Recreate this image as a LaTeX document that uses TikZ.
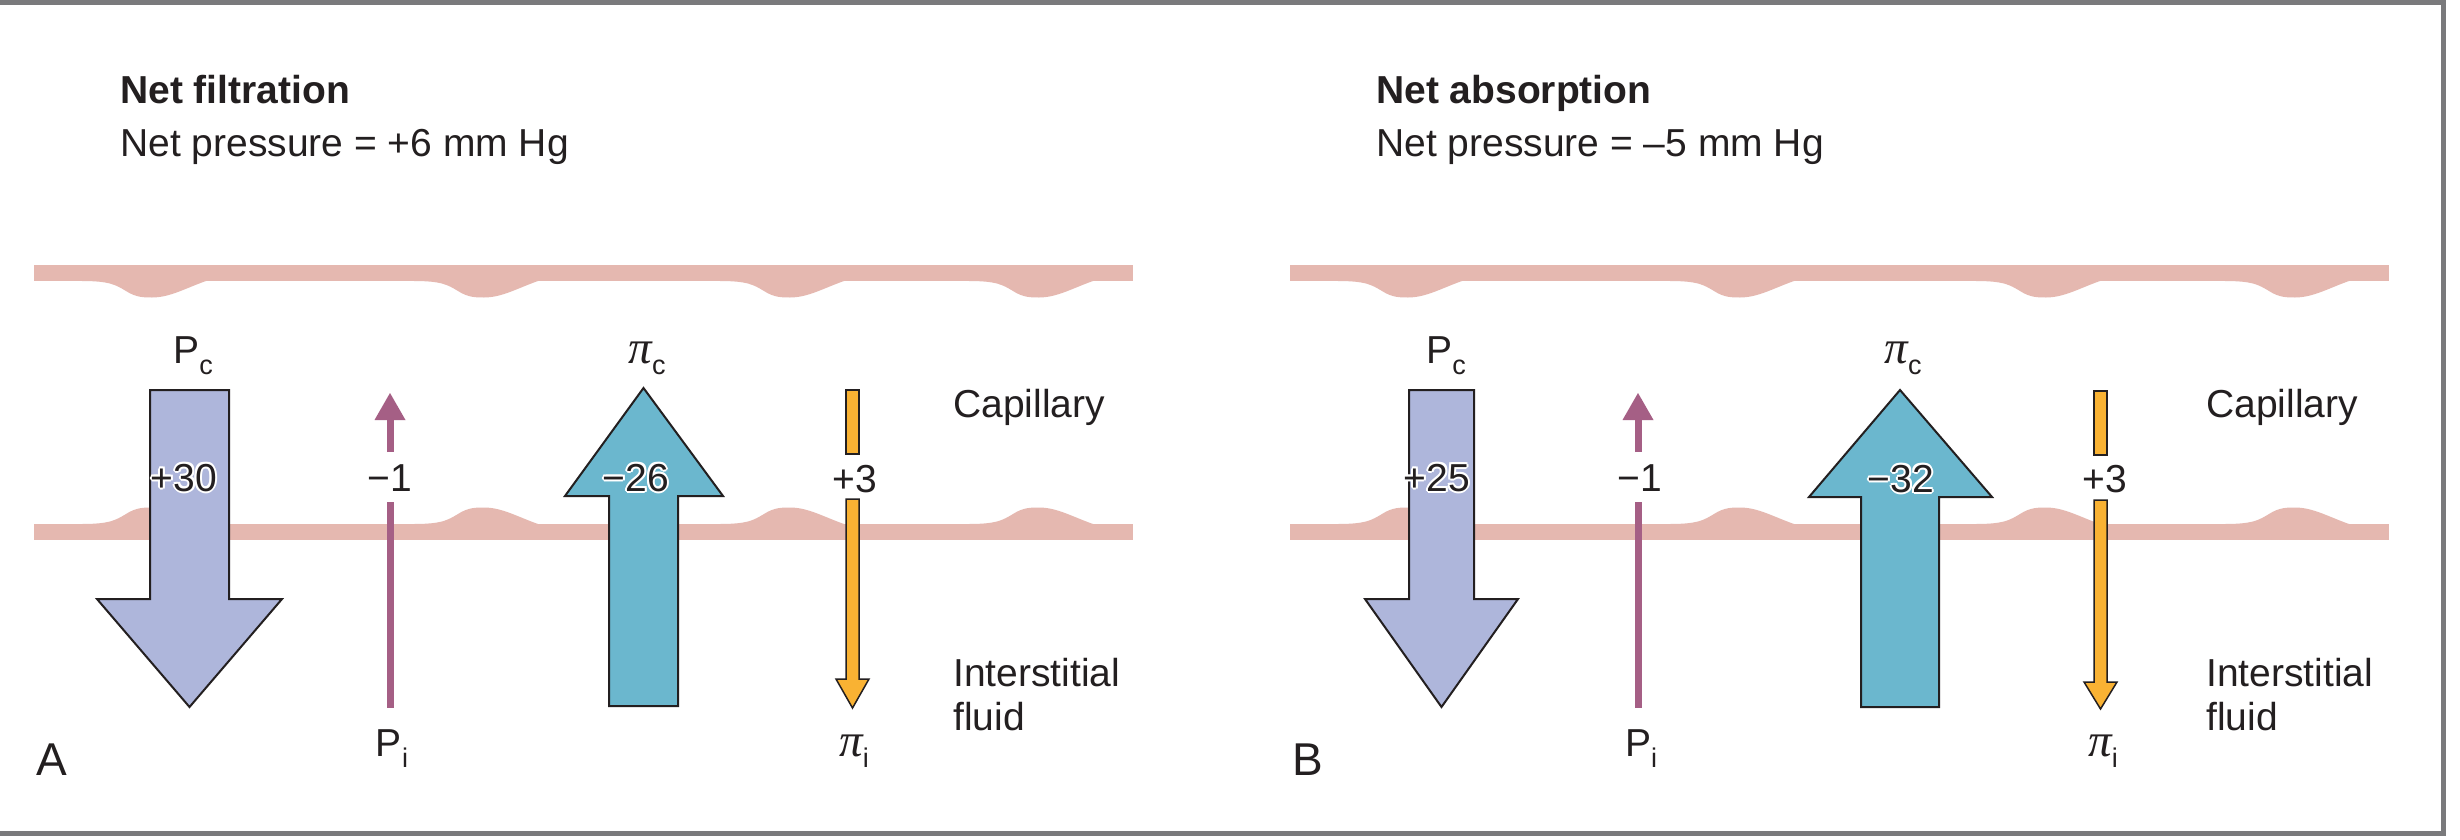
\documentclass[tikz,border=0pt]{standalone}
\usepackage{fontspec}
\setmainfont{Liberation Sans}
\newfontfamily\pifont{Liberation Serif}
\definecolor{ink}{RGB}{35,31,32}
\definecolor{bandpink}{RGB}{229,184,176}
\definecolor{lav}{RGB}{174,182,219}
\definecolor{cyanarr}{RGB}{107,183,206}
\definecolor{orng}{RGB}{249,178,51}
\definecolor{plum}{RGB}{165,95,133}
\definecolor{framegray}{RGB}{122,122,124}
\newcommand\sbs[1]{\raisebox{-0.29em}{\fontsize{27}{27}\selectfont #1}}
\newcommand\pisym{{\pifont\itshape\fontsize{47}{47}\selectfont π}}
\newcommand\halo[1]{\leavevmode
 \rlap{\textcolor{white}{\kern-2pt#1}}%
 \rlap{\textcolor{white}{\kern2pt#1}}%
 \rlap{\textcolor{white}{\raisebox{2pt}{#1}}}%
 \rlap{\textcolor{white}{\raisebox{-2pt}{#1}}}%
 \rlap{\textcolor{white}{\kern-1.5pt\raisebox{1.5pt}{#1}}}%
 \rlap{\textcolor{white}{\kern1.5pt\raisebox{1.5pt}{#1}}}%
 \rlap{\textcolor{white}{\kern-1.5pt\raisebox{-1.5pt}{#1}}}%
 \rlap{\textcolor{white}{\kern1.5pt\raisebox{-1.5pt}{#1}}}%
 #1}
\newcommand\topbump[2]{\fill[bandpink] ({#1-70},{#2-1}) -- ({#1-70},#2) .. controls ({#1-42},#2) and ({#1-36},{#2+4}) .. ({#1-26},{#2+10}) .. controls ({#1-16},{#2+16.5}) and ({#1-8},{#2+16.5}) .. (#1,{#2+16.5}) .. controls ({#1+18},{#2+16.5}) and ({#1+34},{#2+7}) .. ({#1+54},#2) -- ({#1+54},{#2-1}) -- cycle;}
\newcommand\botbump[2]{\fill[bandpink] ({#1-70},{#2+1}) -- ({#1-70},#2) .. controls ({#1-42},#2) and ({#1-36},{#2-4}) .. ({#1-26},{#2-10}) .. controls ({#1-16},{#2-16.5}) and ({#1-8},{#2-16.5}) .. (#1,{#2-16.5}) .. controls ({#1+18},{#2-16.5}) and ({#1+34},{#2-7}) .. ({#1+54},#2) -- ({#1+54},{#2+1}) -- cycle;}
\begin{document}
\begin{tikzpicture}[x=1pt,y=-1pt,
  lbl/.style={font=\fontsize{39}{47}\selectfont, text=ink, inner sep=0pt},
  big/.style={draw=ink, line width=2pt, line join=miter},
  thin/.style={draw=ink, line width=1.5pt, line join=miter}]
\useasboundingbox (0,0) rectangle (2460,840);
\fill[white] (0,0) rectangle (2460,840);
\draw[framegray, line width=5pt] (-10,2.5) rectangle (2443.5,833.5);

% ---------- bands ----------
\fill[bandpink] (34,265) rectangle (1133,281);
\fill[bandpink] (34,524) rectangle (1133,540);
\fill[bandpink] (1290,265) rectangle (2389,281);
\fill[bandpink] (1290,524) rectangle (2389,540);
\foreach \c in {152,484,790,1039,1408,1740,2046,2295} {\topbump{\c}{281}\botbump{\c}{524}}

% ---------- panel A ----------
\node[lbl, anchor=base west] (titleA) at (120,104) {\bfseries Net filtration};
\node[lbl, anchor=base west] (netA) at (120,157) {Net pressure = +6 mm Hg};

\filldraw[big, fill=lav] (150,390) -- (229,390) -- (229,599) -- (282,599) -- (189.5,707) -- (97,599) -- (150,599) -- cycle;
\draw[plum, line width=7pt] (390,452) -- (390,418);
\fill[plum] (374.5,420) -- (405.5,420) -- (390,393) -- cycle;
\draw[plum, line width=7pt] (390,502) -- (390,708);
\filldraw[big, fill=cyanarr] (609,706) -- (678,706) -- (678,496) -- (723,496) -- (643.5,388) -- (565,496) -- (609,496) -- cycle;
\filldraw[thin, fill=orng] (846,390) rectangle (859,454);
\filldraw[thin, fill=orng] (846,499) -- (859,499) -- (859,679) -- (869,679) -- (852.5,708) -- (836,679) -- (846,679) -- cycle;

\node[lbl, anchor=base] (PcA) at (193,363) {P\sbs{c}};
\node[lbl, anchor=base] (picA) at (647,363) {\pisym\sbs{c}};
\node[lbl, anchor=base] (vA1) at (184,491) {\halo{+30}};
\node[lbl, anchor=base] (vA2) at (390,491) {−1};
\node[lbl, anchor=base] (vA3) at (636,491) {\halo{−26}};
\node[lbl, anchor=base] (vA4) at (855,492) {+3};
\node[lbl, anchor=base west] (capA) at (953,417) {Capillary};
\node[lbl, anchor=base west] (intA) at (953,686) {Interstitial};
\node[lbl, anchor=base west] (fluA) at (953,730) {fluid};
\node[lbl, anchor=base] (PiA) at (392,756) {P\sbs{i}};
\node[lbl, anchor=base] (piiA) at (854,756) {\pisym\sbs{i}};
\node[lbl, anchor=base west, font=\fontsize{46}{50}\selectfont] (labA) at (36,775) {A};

% ---------- panel B ----------
\node[lbl, anchor=base west] (titleB) at (1376,104) {\bfseries Net absorption};
\node[lbl, anchor=base west] (netB) at (1376,157) {Net pressure = –5 mm Hg};

\filldraw[big, fill=lav] (1409,390) -- (1474,390) -- (1474,599) -- (1518,599) -- (1441.5,707) -- (1365,599) -- (1409,599) -- cycle;
\draw[plum, line width=7pt] (1638,452) -- (1638,418);
\fill[plum] (1622.5,420) -- (1653.5,420) -- (1638,393) -- cycle;
\draw[plum, line width=7pt] (1638,502) -- (1638,708);
\filldraw[big, fill=cyanarr] (1861,707) -- (1939,707) -- (1939,497) -- (1992,497) -- (1900,390) -- (1809,497) -- (1861,497) -- cycle;
\filldraw[thin, fill=orng] (2094,391) rectangle (2107,455);
\filldraw[thin, fill=orng] (2094,500) -- (2107,500) -- (2107,682) -- (2117,682) -- (2100.5,709) -- (2084,682) -- (2094,682) -- cycle;

\node[lbl, anchor=base] (PcB) at (1446,363) {P\sbs{c}};
\node[lbl, anchor=base] (picB) at (1903,363) {\pisym\sbs{c}};
\node[lbl, anchor=base] (vB1) at (1437,491) {\halo{+25}};
\node[lbl, anchor=base] (vB2) at (1640,491) {−1};
\node[lbl, anchor=base] (vB3) at (1901,492) {\halo{−32}};
\node[lbl, anchor=base] (vB4) at (2105,492) {+3};
\node[lbl, anchor=base west] (capB) at (2206,417) {Capillary};
\node[lbl, anchor=base west] (intB) at (2206,686) {Interstitial};
\node[lbl, anchor=base west] (fluB) at (2206,730) {fluid};
\node[lbl, anchor=base] (PiB) at (1641,756) {P\sbs{i}};
\node[lbl, anchor=base] (piiB) at (2103,756) {\pisym\sbs{i}};
\node[lbl, anchor=base west, font=\fontsize{46}{50}\selectfont] (labB) at (1292,775) {B};
\end{tikzpicture}
\end{document}
